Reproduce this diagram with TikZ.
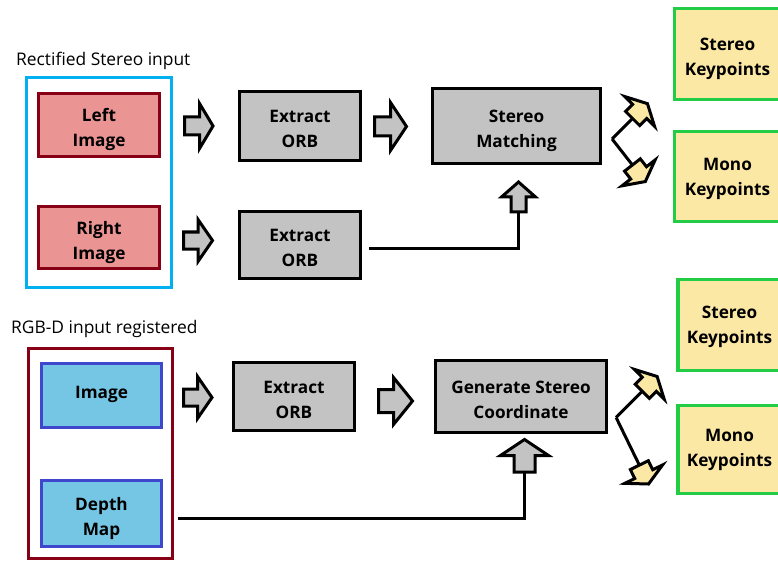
\documentclass[tikz,border=0pt]{standalone}
\usepackage{fontspec}
\setmainfont{Open Sans}
\definecolor{salmon}{HTML}{EA9493}
\definecolor{dred}{HTML}{880015}
\definecolor{gfill}{HTML}{C3C3C3}
\definecolor{cyanf}{HTML}{00B0F0}
\definecolor{lblue}{HTML}{75C6E4}
\definecolor{dblue}{HTML}{3F48CC}
\definecolor{kyellow}{HTML}{FCE8A5}
\definecolor{kgreen}{HTML}{22CC44}
\newcommand\blkarrow[7]{\draw[#1,shift={(#2)},rotate=#3] (0,#6) -- (#4,#6) -- (#4,#7) -- ({#4+#5},0) -- (#4,-#7) -- (#4,-#6) -- (0,-#6) -- cycle;}
\newcommand\bx[2][0pt]{\raisebox{\dimexpr-8.5pt+#1\relax}[0pt][0pt]{\begin{tabular}{@{}c@{}}#2\end{tabular}}}
\begin{document}
\begin{tikzpicture}[x=1pt,y=-1pt,
  box/.style={draw, line width=3.2pt, font=\bfseries\fontsize{17.2}{25}\selectfont, inner sep=0pt},
  sbox/.style={box, fill=salmon, draw=dred},
  gbox/.style={box, fill=gfill, draw=black},
  bbox/.style={box, fill=lblue, draw=dblue},
  kbox/.style={box, fill=kyellow, draw=kgreen},
  frame/.style={draw, line width=3pt, inner sep=0pt},
  lbl/.style={font=\fontsize{17.4}{20}\selectfont, anchor=west, inner sep=0pt},
  conn/.style={line width=3pt},
  barr/.style={draw=black, line width=3pt, fill=gfill, line join=miter, miter limit=10},
  karr/.style={barr, fill=kyellow}]
\useasboundingbox (0,0) rectangle (778,561);

% ---------- top section ----------
\node[lbl] (t1) at (16,61) {Rectified Stereo input};
\node[frame, draw=cyanf, minimum width=145pt, minimum height=210pt] (fr1) at (99,182.5) {};
\node[sbox, minimum width=121pt, minimum height=63pt] (left) at (99,125) {\bx{Left\\Image}};
\node[sbox, minimum width=121pt, minimum height=62pt] (right) at (99,237.5) {\bx{Right\\Image}};
\node[gbox, minimum width=121pt, minimum height=69pt] (orb1) at (300,126) {\bx{Extract\\ORB}};
\node[gbox, minimum width=121pt, minimum height=67pt] (orb2) at (300,245) {\bx{Extract\\ORB}};
\node[gbox, minimum width=168pt, minimum height=75pt] (sm) at (516.5,126) {\bx{Stereo\\Matching}};
\node[kbox, minimum width=106pt, minimum height=91pt] (sk1) at (727.5,54) {\bx{Stereo\\Keypoints}};
\node[kbox, minimum width=106pt, minimum height=90pt] (mk1) at (727.5,176.5) {\bx[3pt]{Mono\\Keypoints}};

\coordinate (a1) at (184.5,126);
\coordinate (a2) at (374.5,126.5);
\coordinate (a3) at (183.5,240.5);
\blkarrow{barr}{a1}{0}{15}{13.5}{9}{22.5}
\blkarrow{barr}{a2}{0}{16}{16}{9.5}{24}
\blkarrow{barr}{a3}{0}{14.5}{14.5}{8.5}{21}

\coordinate (u1) at (518.5,212);
\draw[conn] ([xshift=7pt,yshift=-3pt]orb2.east) -| (u1);
\blkarrow{barr}{u1}{90}{15}{15}{7.5}{17}

\coordinate (v1) at ([xshift=10pt,yshift=-13pt]sm.east);
\draw[conn] (v1) -- ++(45:29pt) coordinate (k1);
\draw[conn] (v1) -- ++(-52:33pt) coordinate (k2);
\blkarrow{karr}{k1}{45}{10}{11}{10}{21}
\blkarrow{karr}{k2}{-52}{10}{11}{10}{21}

% ---------- bottom section ----------
\node[lbl] (t2) at (11,329) {RGB-D input registered};
\node[frame, draw=dred, minimum width=144pt, minimum height=210pt] (fr2) at (100.5,453) {};
\node[bbox, minimum width=120pt, minimum height=64pt] (img) at (101.5,395.5) {\bx[6pt]{Image}};
\node[bbox, minimum width=120pt, minimum height=66pt] (depth) at (101.5,513.5) {\bx{Depth\\Map}};
\node[gbox, minimum width=121pt, minimum height=68pt] (orb3) at (294,396.5) {\bx{Extract\\ORB}};
\node[gbox, minimum width=171pt, minimum height=72pt] (gsc) at (521,396.5) {\bx{Generate Stereo\\Coordinate}};
\node[kbox, minimum width=103pt, minimum height=91pt] (sk2) at (729.5,325) {\bx[3pt]{Stereo\\Keypoints}};
\node[kbox, minimum width=103pt, minimum height=88pt] (mk2) at (729.5,449.5) {\bx[5pt]{Mono\\Keypoints}};

\coordinate (a4) at (183.5,397.5);
\coordinate (a5) at (378.5,401);
\blkarrow{barr}{a4}{0}{14}{14.5}{8.5}{21}
\blkarrow{barr}{a5}{0}{15}{19}{11.5}{23.5}

\coordinate (u2) at (524.5,472);
\coordinate (dstart) at (178,518);
\draw[conn] (dstart) -| (u2);
\blkarrow{barr}{u2}{90}{16.5}{16}{10.5}{24}

\coordinate (v2) at ([xshift=8pt,yshift=-21pt]gsc.east);
\draw[conn] (v2) -- ++(45:37pt) coordinate (k3);
\draw[conn] (v2) -- ++(-64:53pt) coordinate (k4);
\blkarrow{karr}{k3}{45}{10}{11}{10}{21}
\blkarrow{karr}{k4}{-64}{10}{11}{10}{21}
\end{tikzpicture}
\end{document}
